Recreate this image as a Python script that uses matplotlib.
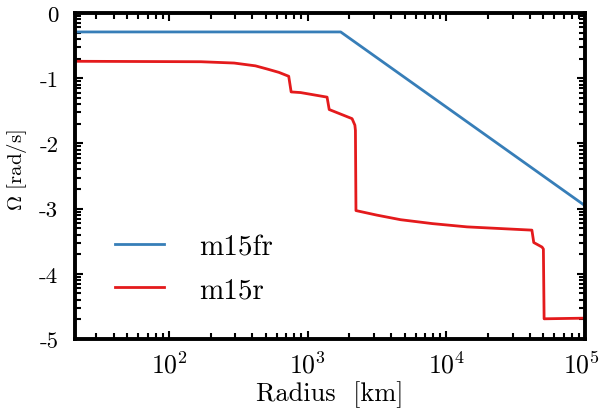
import numpy as np
import matplotlib
matplotlib.use("Agg")
import matplotlib.pyplot as plt
import matplotlib.transforms as mtransforms
from matplotlib.ticker import FixedLocator, FixedFormatter, LogLocator, NullFormatter

# ---- fonts: Computer Modern look ----
plt.rcParams['font.family'] = 'serif'
plt.rcParams['font.serif'] = ['cmr10']
plt.rcParams['mathtext.fontset'] = 'cm'
plt.rcParams['axes.unicode_minus'] = False
plt.rcParams['axes.formatter.use_mathtext'] = True

# ---- data ----
labels = ['m15fr', 'm15r']
colors = ['#377eb8', '#e41a1c']

r_fr = [21, 1730, 1e5]
om_fr = [-0.29, -0.29, -2.955]

r_r = [21, 170, 295, 420, 513, 620, 730, 760, 890, 1380, 1430,
       2090, 2190, 2210, 2230, 3160, 4680, 7940, 14100, 41400,
       42700, 49000, 50100, 50700, 1e5]
om_r = [-0.74, -0.747, -0.767, -0.81, -0.86, -0.91, -0.97, -1.21, -1.22, -1.29, -1.48,
        -1.62, -1.72, -1.80, -3.03, -3.10, -3.17, -3.23, -3.28, -3.33,
        -3.52, -3.59, -3.62, -4.69, -4.68]

x_major = [1e2, 1e3, 1e4, 1e5]
x_labels = [r'$10^2$', r'$10^3$', r'$10^4$', r'$10^5$']
y_major = [0, -1, -2, -3, -4, -5]
y_labels = ['0', '-1', '-2', '-3', '-4', '-5']

# ---- figure ----
fig = plt.figure(figsize=(6.01, 4.14), dpi=100)
ax = fig.add_axes([0.1248, 0.1787, 0.8486, 0.7874])

ax.plot(r_fr, om_fr, color=colors[0], lw=2.0, label=labels[0])
ax.plot(r_r, om_r, color=colors[1], lw=2.0, label=labels[1])

ax.set_xscale('log')
ax.set_xlim(21, 1e5)
ax.set_ylim(-5, 0)

# y axis: log-style minor ticks within each unit
y_minor = [n + np.log10(k) for n in range(-5, 0) for k in range(2, 10)]
ax.yaxis.set_major_locator(FixedLocator(y_major))
ax.yaxis.set_major_formatter(FixedFormatter(y_labels))
ax.yaxis.set_minor_locator(FixedLocator(y_minor))
ax.xaxis.set_major_locator(FixedLocator(x_major))
ax.xaxis.set_major_formatter(FixedFormatter(x_labels))
ax.xaxis.set_minor_locator(LogLocator(base=10, subs=np.arange(2, 10), numticks=20))
ax.xaxis.set_minor_formatter(NullFormatter())

for s in ax.spines.values():
    s.set_linewidth(2.8)
ax.tick_params(which='both', direction='in', top=True, right=True, width=1.5)
ax.tick_params(which='major', length=6)
ax.tick_params(which='minor', length=4)
ax.tick_params(axis='x', which='major', labelsize=18.5, pad=9)
ax.tick_params(axis='y', which='major', labelsize=16.5, pad=12)

# keep the last x label inside the canvas
shift = mtransforms.ScaledTranslation(-0.04, 0, fig.dpi_scale_trans)
last = ax.get_xticklabels()[-1]
last.set_transform(last.get_transform() + shift)

ax.set_xlabel('Radius  [km]', fontsize=19, labelpad=2)
ax.set_ylabel(r'$\Omega$ [rad/s]', fontsize=15)
ax.yaxis.set_label_coords(-0.09, 0.52)

ax.legend(loc='center left', bbox_to_anchor=(0.078, 0.216), frameon=False,
          fontsize=21, handlelength=1.7, handletextpad=1.2, labelspacing=0.55,
          borderpad=0, borderaxespad=0)

fig.savefig('out.png', dpi=100)
